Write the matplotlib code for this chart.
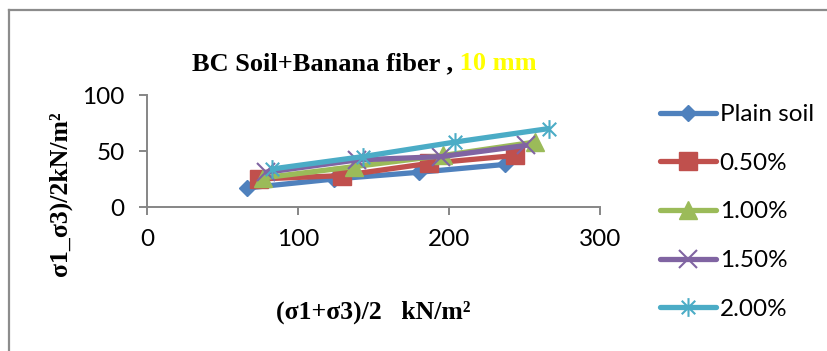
import matplotlib
matplotlib.use("Agg")
import matplotlib.pyplot as plt
from matplotlib.path import Path
from matplotlib.lines import Line2D

# ---- data ----
series_names = ["Plain soil", "0.50%", "1.00%", "1.50%", "2.00%"]
x_plain = [66, 124, 180, 237]
y_plain = [17, 25, 31, 38]
x_050 = [74, 129, 187, 244]
y_050 = [25, 28, 39, 46]
x_100 = [77, 137, 196, 257]
y_100 = [26, 36, 46, 58]
x_150 = [79, 139, 195, 251]
y_150 = [31, 42, 45, 55]
x_200 = [83, 143, 204, 266]
y_200 = [34, 45, 58, 70]
x_ticks = [0, 100, 200, 300]
y_ticks = [0, 50, 100]

colors = ["#4F81BD", "#C0504D", "#9BBB59", "#8064A2", "#4BACC6"]

# asterisk marker: vertical line + X
ast = Path([(0, -1), (0, 1), (-0.72, -0.72), (0.72, 0.72), (-0.72, 0.72), (0.72, -0.72)],
           [Path.MOVETO, Path.LINETO, Path.MOVETO, Path.LINETO, Path.MOVETO, Path.LINETO])

markers = ["D", "s", "^", "x", ast]
msizes = [8.2, 12.5, 12.5, 12.5, 13.5]
mews = [1, 1, 1, 1.5, 1.5]

xs = [x_plain, x_050, x_100, x_150, x_200]
ys = [y_plain, y_050, y_100, y_150, y_200]

W, H, DPI = 827, 351, 100
fig = plt.figure(figsize=(W / DPI, H / DPI), dpi=DPI)
fig.patch.set_facecolor("white")

# outer border (only top/left visible in reference)
fig.add_artist(Line2D([9 / W, 9 / W], [0, 1 - 10 / H], color="#8C8C8C", lw=1.6,
                      transform=fig.transFigure))
fig.add_artist(Line2D([9 / W, 1], [1 - 10 / H, 1 - 10 / H], color="#8C8C8C", lw=1.6,
                      transform=fig.transFigure))

ax = fig.add_axes([147 / W, (H - 207) / H, (600 - 147) / W, (207 - 95) / H])
ax.set_facecolor("none")

for i in range(5):
    ax.plot(xs[i], ys[i], color=colors[i], lw=3.8, marker=markers[i],
            markersize=msizes[i], markeredgewidth=mews[i],
            markerfacecolor=colors[i], markeredgecolor=colors[i],
            solid_capstyle="round", label=series_names[i], clip_on=False)

ax.set_xlim(0, 300)
ax.set_ylim(0, 100)
ax.set_xticks(x_ticks)
ax.set_yticks(y_ticks)
for s in ["top", "right"]:
    ax.spines[s].set_visible(False)
for s in ["left", "bottom"]:
    ax.spines[s].set_color("#868686")
    ax.spines[s].set_linewidth(1.4)
ax.tick_params(axis="both", direction="out", length=6, width=1.4, color="#868686",
               labelsize=17.5, labelcolor="black")
ax.tick_params(axis="x", pad=10)
ax.tick_params(axis="y", pad=10)
for lab in ax.get_xticklabels() + ax.get_yticklabels():
    lab.set_fontfamily("Lato")

serif = "Liberation Serif"
fig.text(373 / W, 1 - 312 / H, "(\u03c31+\u03c33)/2   kN/m\u00b2", ha="center", va="center",
         fontsize=18.5, fontweight="bold", family=serif)
fig.text(60 / W, 1 - 194 / H, "\u03c31_\u03c33)/2kN/m\u00b2", ha="center", va="center",
         rotation=90, fontsize=18.5, fontweight="bold", family=serif)

t1 = fig.text(192 / W, 1 - 70 / H, "BC Soil+Banana fiber ,", ha="left", va="baseline",
              fontsize=19, fontweight="bold", family=serif, color="black")
ax.annotate(" 10 mm", xy=(1, 0), xycoords=t1, ha="left", va="bottom",
            fontsize=19, fontweight="bold", family=serif, color="#FFFF00",
            annotation_clip=False)

leg = fig.legend(loc="upper left", bbox_to_anchor=(660 / W, 1 - 104 / H),
                 frameon=False, prop={"family": "Lato", "size": 17.5},
                 handlelength=2.3, handletextpad=0.15, labelspacing=1.14,
                 borderaxespad=0, borderpad=0)

fig.savefig("out.png", dpi=DPI)
